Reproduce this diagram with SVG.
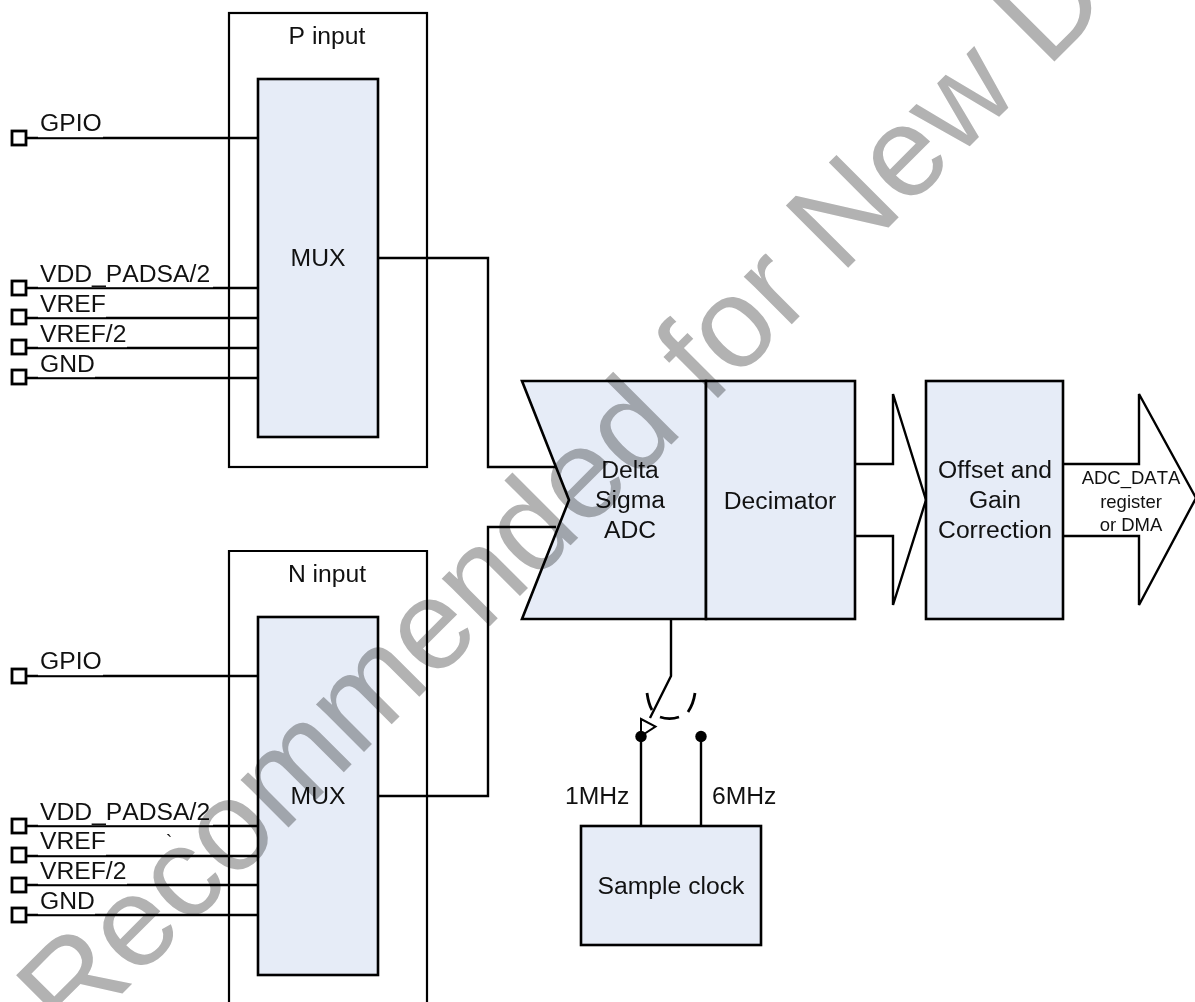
<svg xmlns="http://www.w3.org/2000/svg" width="1195" height="1002" viewBox="0 0 1195 1002">
<style>
text{font-family:"Liberation Sans",Arial,sans-serif;font-size:24.7px;fill:#111;font-kerning:none}
.m{text-anchor:middle}
.s{font-size:18.500px}
.b{fill:#e6ecf7;stroke:#000;stroke-width:2.6}
.o{fill:#fff;stroke:#000;stroke-width:2.2}
.w{fill:none;stroke:#000;stroke-width:2.4}
.t{fill:none;stroke:#000;stroke-width:2.8}
.p{fill:#fff;stroke:#000;stroke-width:2.8}
.h{fill:#fff;stroke:none}
</style>
<rect width="1195" height="1002" fill="#fff"/>
<g id="p-input"><rect class="o" x="229" y="13" width="198" height="454"/><text class="m" x="327" y="44">P input</text></g>
<g id="n-input"><path class="o" d="M229 1004V551H427V1004"/><text class="m" x="327" y="582">N input</text></g>
<g id="connectors">
<path class="w" d="M26 138H258M26 288H258M26 318H258M26 348H258M26 378H258"/>
<path class="w" d="M26 676H258M26 826H258M26 856H258M26 885H258M26 915H258"/>
<path class="w" d="M378 258H488V467H556M378 796H488V527H556"/>
<path class="w" d="M671 618V676L650 718M641 736V826M701 736V826"/>
</g>
<g id="p-mux"><rect class="b" x="258" y="79" width="120" height="358"/><text class="m" x="318" y="266">MUX</text></g>
<g id="n-mux"><rect class="b" x="258" y="617" width="120" height="358"/><text class="m" x="318" y="804">MUX</text></g>
<g id="pins-p">
<rect class="p" x="12" y="131" width="14" height="14"/><rect class="p" x="12" y="281" width="14" height="14"/><rect class="p" x="12" y="310" width="14" height="14"/><rect class="p" x="12" y="340" width="14" height="14"/><rect class="p" x="12" y="370" width="14" height="14"/>
<rect class="h" x="38" y="112" width="65" height="25.2"/><rect class="h" x="38" y="262" width="175" height="25.2"/><rect class="h" x="38" y="293" width="68" height="24.2"/><rect class="h" x="38" y="323" width="89" height="24.2"/><rect class="h" x="38" y="353" width="57" height="24.2"/>
<text x="40" y="131">GPIO</text><text x="40" y="282">VDD_PADSA/2</text><text x="40" y="312">VREF</text><text x="40" y="342">VREF/2</text><text x="40" y="372">GND</text>
</g>
<g id="pins-n">
<rect class="p" x="12" y="669" width="14" height="14"/><rect class="p" x="12" y="819" width="14" height="14"/><rect class="p" x="12" y="848" width="14" height="14"/><rect class="p" x="12" y="878" width="14" height="14"/><rect class="p" x="12" y="908" width="14" height="14"/>
<rect class="h" x="38" y="650" width="65" height="25.2"/><rect class="h" x="38" y="800" width="175" height="25.2"/><rect class="h" x="38" y="830" width="68" height="25.2"/><rect class="h" x="38" y="860" width="89" height="24.2"/><rect class="h" x="38" y="890" width="57" height="24.2"/>
<text x="40" y="669">GPIO</text><text x="40" y="820">VDD_PADSA/2</text><text x="40" y="849">VREF</text><text x="40" y="879">VREF/2</text><text x="40" y="909">GND</text>
<text x="166" y="848" class="s">`</text>
</g>
<g id="adc"><path class="b" d="M522 381H706V619H522L569 500Z"/><text class="m" x="630" y="478">Delta</text><text class="m" x="630" y="508">Sigma</text><text class="m" x="630" y="538">ADC</text></g>
<g id="decimator"><rect class="b" x="706" y="381" width="149" height="238"/><text class="m" x="780" y="509">Decimator</text></g>
<g id="bus-1"><path class="w" d="M855 464H893V394L926 500L893 605V536H855"/></g>
<g id="correction"><rect class="b" x="926" y="381" width="137" height="238"/><text class="m" x="995" y="478">Offset and</text><text class="m" x="995" y="508">Gain</text><text class="m" x="995" y="538">Correction</text></g>
<g id="output"><path class="w" d="M1063 464H1139V394L1196 498L1139 605V536H1063"/><text class="m s" x="1131" y="484">ADC_DATA</text><text class="m s" x="1131" y="508">register</text><text class="m s" x="1131" y="531">or DMA</text></g>
<g id="switch">
<path class="t" d="M647 693C648 700 649 705 652 710M660 717C666 719 673 719 679 717M688 712C692 706 694 700 695 693"/>
<path d="M641 719L655.500 726.500L641 736Z" fill="#fff" stroke="#000" stroke-width="2"/>
<circle cx="641" cy="736.500" r="5.700"/><circle cx="701" cy="736.500" r="5.700"/>
<text x="565" y="804">1MHz</text><text x="712" y="804">6MHz</text>
</g>
<g id="sample-clock"><rect class="b" x="581" y="826" width="180" height="119"/><text class="m" x="671" y="894">Sample clock</text></g>
<g id="watermark"><text x="71" y="1045" transform="rotate(-45 71 1045)" style="font-size:128px;fill:#b2b2b2;mix-blend-mode:multiply">Recommended for New D</text></g>
</svg>
